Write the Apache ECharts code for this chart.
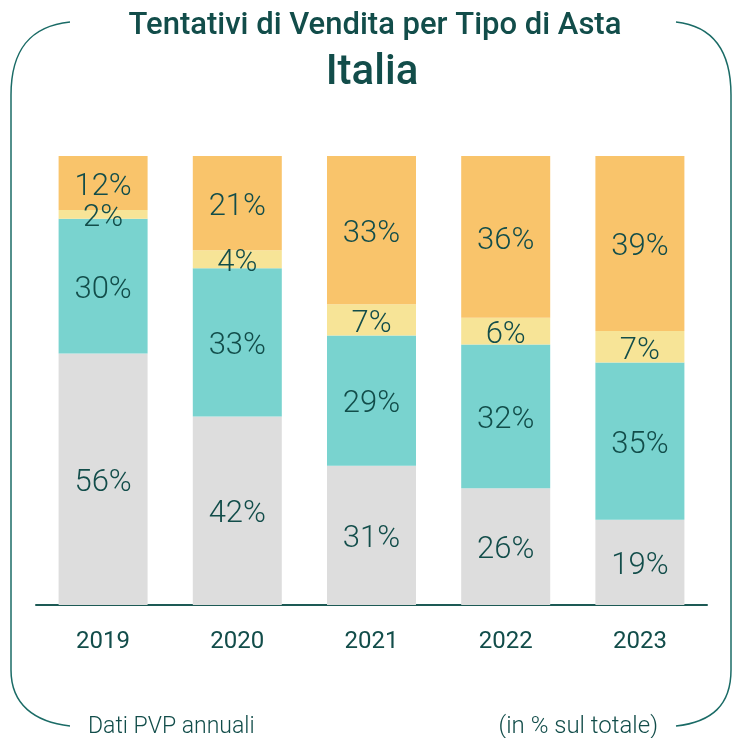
<!DOCTYPE html>
<html>
<head>
<meta charset="utf-8">
<script src="https://cdn.jsdelivr.net/npm/echarts@6/dist/echarts.min.js"></script>
<style>
  html, body { margin: 0; padding: 0; background: #fff; }
  #chart { width: 733px; height: 738px; }
</style>
</head>
<body>
<div id="chart"></div>
<script>
// Anni e quote (%) per tipo di asta, dal basso verso l'alto
const years = ['2019', '2020', '2021', '2022', '2023'];
const grigio = [56, 42, 31, 26, 19];
const turchese = [30, 33, 29, 32, 35];
const giallo = [2, 4, 7, 6, 7];
const arancio = [12, 21, 33, 36, 39];

const TEXT = '#124d4a';
const FONT = 'Roboto';
const FRAME = { stroke: '#1a6b66', lineWidth: 1.5, fill: null };

function layer(name, data, color) {
  return {
    name: name,
    type: 'bar',
    stack: 'tot',
    data: data,
    barWidth: 89,
    itemStyle: { color: color },
    label: {
      show: true,
      position: 'inside',
      formatter: '{c}%',
      offset: [0, 4],
      color: TEXT,
      fontFamily: FONT,
      fontWeight: 300,
      fontSize: 31
    }
  };
}

function curve(x1, y1, cx1, cy1, cx2, cy2, x2, y2) {
  return { type: 'bezierCurve', shape: { x1: x1, y1: y1, cpx1: cx1, cpy1: cy1, cpx2: cx2, cpy2: cy2, x2: x2, y2: y2 }, style: FRAME };
}
function seg(x1, y1, x2, y2) {
  return { type: 'line', shape: { x1: x1, y1: y1, x2: x2, y2: y2 }, style: FRAME };
}
function label(text, x, y, align, font) {
  return { type: 'text', x: x, y: y, style: { text: text, fill: TEXT, font: font, align: align, verticalAlign: 'middle' } };
}

const chart = echarts.init(document.getElementById('chart'), null, { renderer: 'canvas' });
chart.setOption({
  animation: false,
  backgroundColor: '#ffffff',
  grid: { left: 36, right: 26, top: 156, bottom: 133 },
  xAxis: {
    type: 'category',
    data: years,
    axisLine: { lineStyle: { color: '#1d5a55', width: 2 } },
    axisTick: { show: false },
    axisLabel: { color: TEXT, fontFamily: FONT, fontSize: 24, margin: 25 }
  },
  yAxis: { type: 'value', min: 0, max: 100, show: false },
  series: [
    layer('grigio', grigio, '#dddddd'),
    layer('turchese', turchese, '#79d3cf'),
    layer('giallo', giallo, '#f7e497'),
    layer('arancio', arancio, '#f9c46b')
  ],
  graphic: [
    label('Tentativi di Vendita per Tipo di Asta', 375, 26, 'center', '500 31px Roboto'),
    label('Italia', 372, 73, 'center', '500 42px Roboto'),
    label('Dati PVP annuali', 88, 727, 'left', '300 23px Roboto'),
    label('(in % sul totale)', 658, 727, 'right', '300 24px Roboto'),
    curve(70, 22, 30, 26, 11, 50, 11, 95),
    seg(11, 95, 11, 670),
    curve(11, 670, 11, 705, 35, 722, 70, 726),
    curve(676, 22, 712, 26, 731, 50, 731, 95),
    seg(731, 95, 731, 670),
    curve(731, 670, 731, 705, 712, 722, 676, 726)
  ]
});
</script>
</body>
</html>
